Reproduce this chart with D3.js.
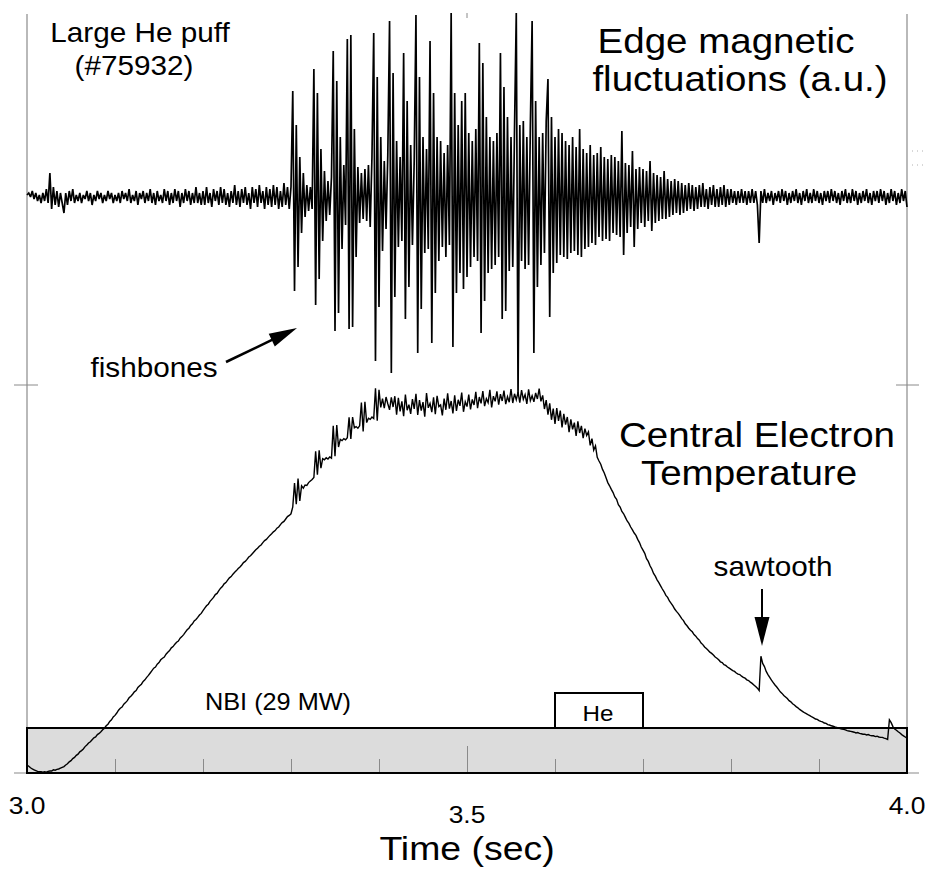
<!DOCTYPE html>
<html>
<head>
<meta charset="utf-8">
<script src="https://cdn.jsdelivr.net/npm/d3@7"></script>
<style>
  html, body { margin: 0; padding: 0; background: #fff; }
  svg { display: block; }
  text { font-family: "Liberation Sans", Arial, Helvetica, sans-serif; fill: #000; }
</style>
</head>
<body>
<svg id="chart" width="926" height="874"></svg>
<script>
// Shot #75932, large He puff: sampled traces, 2 ms per sample from t = 3.0 s
const sampleStart = 3.0;
const sampleStep = 0.002;

// Edge magnetic fluctuations (a.u., centred on zero)
const magSignal = [
  1,2,0,3,-1,2,-2,1,-3,2,
  -2,4,-3,12,-6,5,-4,3,-5,2,
  -3,-8,2,-4,3,-2,4,-3,1,-2,
  2,-3,1,-1,3,-2,2,-4,1,-2,
  3,-1,2,-3,1,-2,3,-1,2,-3,
  1,-2,2,-3,3,-1,2,-2,4,-3,
  1,-2,3,-4,2,-1,3,-3,2,-2,
  4,-3,2,-4,3,-2,1,-3,4,-2,
  3,-4,2,-3,4,-2,3,-5,2,-3,
  4,-2,3,-4,2,-3,5,-3,2,-4,
  3,-4,5,-3,2,-5,4,-2,3,-4,
  5,-3,4,-4,2,-5,3,-3,6,-4,
  3,-5,4,-3,5,-4,2,-6,5,-3,
  4,-5,6,-3,3,-6,5,-4,4,-5,
  6,-4,5,-6,3,-5,7,-4,5,-6,
  5,53,-47,36,-35,20,-18,12,-10,6,
  -7,5,-6,64,-54,52,-41,24,-22,13,
  -12,8,-9,10,73,-67,58,-58,30,-26,
  16,-14,79,-66,81,-65,34,-30,15,-13,
  12,-11,14,-12,16,-15,20,82,-82,60,
  -55,30,-27,18,-16,21,88,-88,62,-50,
  28,-25,20,-22,72,-61,48,-45,26,-24,
  18,91,-78,60,-56,30,-28,24,-26,78,
  -73,52,-48,30,-32,28,-25,22,-30,26,
  -24,92,-75,52,-48,36,-38,48,-46,52,
  -40,32,-35,28,-30,34,-32,77,-68,67,
  -52,40,-38,30,-36,28,-34,32,-30,72,
  -61,55,-57,40,-37,30,-35,34,92,-99,
  36,-32,38,-36,30,-34,36,88,-78,48,
  -45,30,-34,32,-28,38,59,-60,40,-38,
  30,-33,34,-29,32,-30,28,-31,26,-28,
  30,-27,25,-29,34,-30,24,-26,22,-25,
  26,-23,21,-24,22,-20,25,-22,20,-21,
  19,-22,21,-18,20,-19,18,-20,33,-29,
  17,-18,16,-15,23,-25,14,-16,15,-13,
  14,-15,13,-12,18,-17,12,-13,11,-12,
  10,-11,13,-11,9,-10,8,-9,9,-8,
  8,-9,7,-8,6,-7,7,-6,6,-7,
  5,-6,6,-5,7,-5,4,-6,5,-4,
  6,-5,4,-5,5,-4,6,-5,4,-4,
  4,-3,3,-4,3,-3,4,-3,3,-4,
  3,-3,4,-3,3,-4,-23,3,-3,4,
  -3,2,-2,3,-4,2,-2,3,-3,4,
  -2,3,-4,2,-3,3,-2,4,-3,2,
  -4,3,-2,4,-3,2,-3,4,-2,3,
  -3,2,-4,3,-2,3,-3,4,-2,3,
  -3,2,-4,3,-2,4,-3,2,-3,4,
  -2,3,-4,2,-3,3,-2,4,-3,2,
  -4,3,-2,3,-3,4,-2,3,-4,2,
  -3,4,-2,3,-4,2,-3,4,-2,3,-5
];

// Central electron temperature (a.u.)
const teSignal = [
  2.0,1.7,1.3,1.0,0.8,0.6,0.4,0.3,0.3,0.2,
  0.3,0.2,0.4,0.5,0.5,0.8,0.7,0.9,1.0,1.2,
  1.4,1.6,2.0,2.3,2.8,3.1,3.6,3.9,4.4,4.7,
  5.3,5.6,6.0,6.6,7.0,7.5,7.8,8.3,8.8,9.0,
  9.6,9.9,10.3,10.8,11.2,11.8,12.2,12.9,13.3,14.0,
  14.4,15.0,15.7,16.2,16.5,17.2,17.6,18.1,18.8,19.2,
  19.7,20.3,20.6,21.4,21.8,22.2,22.9,23.3,23.9,24.4,
  25.0,25.6,26.2,26.5,27.2,27.6,28.3,28.7,29.0,29.7,
  30.2,30.6,31.3,31.6,32.2,32.7,33.0,33.7,34.1,34.6,
  35.2,35.8,36.2,36.9,37.3,38.0,38.4,38.9,39.5,39.9,
  40.6,41.2,41.8,42.2,42.9,43.4,43.9,44.6,44.9,45.6,
  46.2,46.6,47.3,47.6,48.2,48.8,49.1,49.7,50.2,50.6,
  51.1,51.5,52.0,52.6,52.9,53.4,54.0,54.3,54.8,55.3,
  55.8,56.2,56.7,57.0,57.6,58.1,58.4,58.9,59.4,59.8,
  60.3,60.6,61.2,61.5,62.1,62.6,62.9,63.5,64.1,64.4,
  64.8,66.5,72.5,67.2,73.6,68.0,71.8,71.2,72.0,71.9,
  72.6,73.0,73.4,73.9,80.4,74.6,80.7,76.2,78.6,78.3,
  78.8,78.5,79.0,78.7,86.8,79.2,87.0,81.5,83.4,83.1,
  83.6,83.3,83.8,88.9,83.5,89.0,86.3,86.6,86.2,86.8,
  92.6,85.4,92.8,87.6,88.7,88.4,89.0,88.6,96.2,88.1,
  95.8,91.4,93.6,91.2,94.0,92.3,90.8,93.9,91.5,94.2,
  89.6,93.8,90.4,92.9,89.2,94.6,90.7,92.1,89.8,93.5,
  91.0,94.8,89.5,93.2,90.6,92.7,89.1,95.0,91.3,92.4,
  90.2,93.9,89.7,94.3,91.6,92.0,89.4,93.6,90.8,94.9,
  91.1,93.0,89.9,94.4,90.5,93.3,91.8,95.1,90.3,92.8,
  91.6,94.6,90.9,93.4,92.0,95.3,91.2,94.0,92.4,95.5,
  91.7,93.6,92.6,95.8,91.4,94.2,92.9,95.4,92.1,94.7,
  93.0,95.6,92.2,94.1,92.7,96.0,92.5,94.8,93.3,95.2,
  92.6,95.7,93.4,94.6,92.3,95.9,93.1,94.3,92.8,95.0,
  93.5,96.1,92.9,94.4,91.0,93.2,89.6,92.4,88.3,91.1,
  87.3,91.2,88.0,90.6,86.4,89.8,87.1,89.0,85.2,88.4,
  85.9,87.6,84.3,87.9,85.0,86.8,83.7,86.1,84.4,85.3,
  81.9,83.6,80.7,81.8,78.9,78.0,77.2,75.9,75.0,73.8,
  72.6,71.8,70.9,70.1,69.0,68.4,67.1,66.5,65.4,64.8,
  63.9,63.0,62.4,61.5,60.8,60.0,59.4,58.4,57.6,56.5,
  55.7,54.9,53.6,52.9,51.8,51.0,49.9,49.2,48.3,47.6,
  46.8,46.0,45.3,44.4,43.9,43.0,42.4,41.8,41.0,40.4,
  39.9,39.3,38.6,38.1,37.3,36.8,36.2,35.7,35.3,34.6,
  34.2,33.6,33.2,32.5,32.1,31.5,31.1,30.7,30.2,29.9,
  29.5,29.0,28.7,28.3,27.8,27.6,27.1,26.9,26.5,26.2,
  25.9,25.6,25.4,25.0,24.7,24.6,24.2,23.9,23.7,23.3,
  23.1,22.7,22.4,22.0,21.6,21.2,20.6,29.2,27.4,26.6,
  25.4,24.6,23.9,23.2,22.6,22.0,21.5,20.9,20.3,19.9,
  19.4,19.0,18.6,18.1,17.8,17.3,17.0,16.6,16.3,15.9,
  15.6,15.3,15.0,14.8,14.5,14.3,14.0,13.8,13.5,13.4,
  13.1,12.9,12.8,12.5,12.4,12.1,12.0,11.8,11.7,11.5,
  11.4,11.3,11.1,11.0,10.9,10.8,10.6,10.5,10.4,10.3,
  10.2,10.0,10.1,9.9,9.8,9.7,9.7,9.5,9.6,9.4,
  9.3,9.3,9.1,9.2,9.0,8.9,8.9,8.7,8.6,8.4,
  13.3,12.6,11.6,11.0,10.7,10.3,10.0,9.6,9.3,9.0,8.7
];

// Time axis
const timeTicks = [3.0, 3.1, 3.2, 3.3, 3.4, 3.5, 3.6, 3.7, 3.8, 3.9, 4.0];
const timeLabelValues = [3.0, 3.5, 4.0];
const timeLabelText = ["3.0", "3.5", "4.0"];

// Heating and gas-puff windows (s)
const nbiWindow = [3.0, 4.0];
const hePuffWindow = [3.6, 3.7];

const svg = d3.select("#chart");
const axisGrey = "#8a8a8a";

// Layout
const plotLeft = 27, plotRight = 907, plotTop = 14, plotBottom = 773, plotMid = 385;
const magCentre = 197;

const x = d3.scaleLinear().domain([3.0, 4.0]).range([plotLeft, plotRight]);
const yMag = d3.scaleLinear().domain([-100, 100]).range([magCentre + 200, magCentre - 200]);
const yTe = d3.scaleLinear().domain([0, 100]).range([plotBottom, plotBottom - 400]);
const tOf = i => sampleStart + i * sampleStep;

// Frame: side rails, baseline and divider ticks
svg.append("line").attr("x1", plotLeft).attr("x2", plotLeft).attr("y1", plotTop).attr("y2", plotBottom)
  .attr("stroke", axisGrey).attr("stroke-width", 1.2);
svg.append("line").attr("x1", plotRight).attr("x2", plotRight).attr("y1", plotTop).attr("y2", plotBottom)
  .attr("stroke", axisGrey).attr("stroke-width", 1.2);
svg.append("line").attr("x1", 14).attr("x2", 919).attr("y1", plotBottom).attr("y2", plotBottom)
  .attr("stroke", axisGrey).attr("stroke-width", 1.2);
svg.append("line").attr("x1", 14).attr("x2", 38).attr("y1", plotMid).attr("y2", plotMid)
  .attr("stroke", axisGrey).attr("stroke-width", 1);
svg.append("line").attr("x1", 896).attr("x2", 919).attr("y1", plotMid).attr("y2", plotMid)
  .attr("stroke", axisGrey).attr("stroke-width", 1);
svg.append("line").attr("x1", x(3.5)).attr("x2", x(3.5)).attr("y1", 13).attr("y2", 18)
  .attr("stroke", axisGrey).attr("stroke-width", 1);
[151, 165].forEach(yy => {
  svg.append("line").attr("x1", 912).attr("x2", 925).attr("y1", yy).attr("y2", yy)
    .attr("stroke", "#b0b0b0").attr("stroke-width", 1).attr("stroke-dasharray", "1,4");
});

// NBI heating bar
const nbiTop = 728;
svg.append("rect")
  .attr("x", x(nbiWindow[0])).attr("y", nbiTop)
  .attr("width", x(nbiWindow[1]) - x(nbiWindow[0])).attr("height", plotBottom - nbiTop)
  .attr("fill", "#dcdcdc");

// Time ticks inside the bar
const axis = d3.axisBottom(x).tickValues(timeTicks).tickSize(-14).tickFormat("");
const axisG = svg.append("g").attr("transform", `translate(0,${plotBottom})`).call(axis);
axisG.select(".domain").remove();
axisG.selectAll(".tick line")
  .attr("stroke", axisGrey).attr("stroke-width", 1)
  .attr("y2", d => Math.abs(d - 3.5) < 1e-9 ? -27 : -14);

svg.append("rect")
  .attr("x", x(nbiWindow[0])).attr("y", nbiTop)
  .attr("width", x(nbiWindow[1]) - x(nbiWindow[0])).attr("height", plotBottom - nbiTop)
  .attr("fill", "none").attr("stroke", "#000").attr("stroke-width", 2);

// He puff marker box
const heTop = 693;
svg.append("rect")
  .attr("x", x(hePuffWindow[0])).attr("y", heTop)
  .attr("width", x(hePuffWindow[1]) - x(hePuffWindow[0])).attr("height", nbiTop - heTop)
  .attr("fill", "#fff").attr("stroke", "#000").attr("stroke-width", 2);

// Traces
const magLine = d3.line().x((d, i) => x(tOf(i))).y(d => yMag(d));
svg.append("path").datum(magSignal).attr("d", magLine)
  .attr("fill", "none").attr("stroke", "#000").attr("stroke-width", 1.7)
  .attr("stroke-linejoin", "miter").attr("stroke-miterlimit", 2);

const teLine = d3.line().x((d, i) => x(tOf(i))).y(d => yTe(d));
svg.append("path").datum(teSignal).attr("d", teLine)
  .attr("fill", "none").attr("stroke", "#000").attr("stroke-width", 1.4);

// Text helper (slightly widened face)
function label(str, cx, baseline, size) {
  svg.append("text")
    .attr("transform", `translate(${cx},${baseline}) scale(1.1,1)`)
    .attr("text-anchor", "middle")
    .attr("font-size", size)
    .text(str);
}

// Arrow helper: shaft plus filled head
function arrow(x1, y1, x2, y2, headLen, headHalf, width) {
  const dx = x2 - x1, dy = y2 - y1, len = Math.hypot(dx, dy);
  const ux = dx / len, uy = dy / len, px = -uy, py = ux;
  const bx = x2 - ux * headLen, by = y2 - uy * headLen;
  svg.append("line").attr("x1", x1).attr("y1", y1).attr("x2", bx + ux * 2).attr("y2", by + uy * 2)
    .attr("stroke", "#000").attr("stroke-width", width);
  svg.append("path")
    .attr("d", `M${x2},${y2}L${bx + px * headHalf},${by + py * headHalf}L${bx - px * headHalf},${by - py * headHalf}Z`)
    .attr("fill", "#000");
}

label("Large He puff", 140, 42, 27);
label("(#75932)", 134, 75, 27);
label("Edge magnetic", 726, 53, 35);
label("fluctuations (a.u.)", 740, 91, 35);
label("fishbones", 154, 377, 27);
arrow(226, 362, 297, 328, 28, 7, 2.5);
label("Central Electron", 757, 447, 35);
label("Temperature", 749, 485, 35);
label("sawtooth", 773, 576, 27);
arrow(762, 589, 762, 646, 29, 7.5, 2);
label("NBI (29 MW)", 278, 710, 23);
label("He", (x(hePuffWindow[0]) + x(hePuffWindow[1])) / 2 - 1, 721, 22);

// Time labels: the midpoint label sits lower
timeLabelValues.forEach((v, k) => {
  label(timeLabelText[k], x(v), Math.abs(v - 3.5) < 1e-9 ? 823 : 814, 24);
});
label("Time (sec)", x(3.5), 860, 34);
</script>
</body>
</html>
